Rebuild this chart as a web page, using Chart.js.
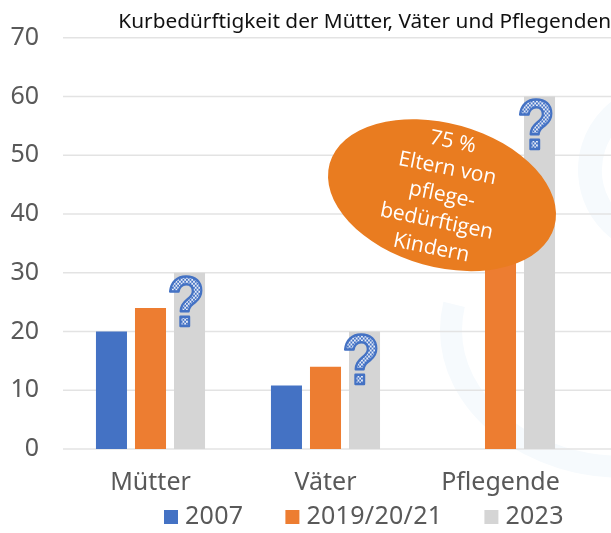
<!DOCTYPE html>
<html>
<head>
<meta charset="utf-8">
<script src="https://cdn.jsdelivr.net/npm/chart.js@4"></script>
<style>
  html, body { margin: 0; padding: 0; background: #fff; }
  #box { width: 611px; height: 533px; }
</style>
</head>
<body>
<div id="box"><canvas id="stage"></canvas></div>
<script>
const categories = ['Mütter', 'Väter', 'Pflegende'];
const years = ['2007', '2019/20/21', '2023'];
const values2007 = [20, 10.8, null];
const values2019 = [24, 14, 50];
const values2023 = [30, 20, 60];
const calloutLines = ['75 %', 'Eltern von', 'pflege-', 'bedürftigen', 'Kindern'];
const titleText = 'Kurbedürftigkeit der Mütter, Väter und Pflegenden';

const fontName = '"Noto Sans", sans-serif';

// schachbrett fuer die fragezeichen
function makeCheck() {
  const c = document.createElement('canvas');
  c.width = 4;
  c.height = 4;
  const g = c.getContext('2d');
  g.fillStyle = '#e6ecf8';
  g.fillRect(0, 0, 4, 4);
  g.fillStyle = '#4472C4';
  g.fillRect(0, 0, 2, 2);
  g.fillRect(2, 2, 2, 2);
  return c;
}

// blasses wasserzeichen im hintergrund
const watermark = {
  id: 'watermark',
  beforeDraw(chart) {
    const ctx = chart.ctx;
    ctx.save();
    ctx.strokeStyle = '#f6fafd';
    ctx.lineWidth = 22;
    ctx.beginPath();
    ctx.ellipse(625, 330, 174, 137, 0, Math.PI * 0.5, Math.PI * 1.06);
    ctx.stroke();
    ctx.lineWidth = 24;
    ctx.beginPath();
    ctx.arc(665, 170, 75, Math.PI * 0.6, Math.PI * 1.4);
    ctx.stroke();
    ctx.restore();
  }
};

// gitterlinien laufen bis zum rechten bildrand
const gridToEdge = {
  id: 'gridToEdge',
  afterLayout(chart) {
    chart.titleBlock.right = chart.width;
  },
  beforeDatasetsDraw(chart) {
    const ctx = chart.ctx;
    const y = chart.scales.y;
    ctx.save();
    ctx.strokeStyle = '#e3e3e3';
    ctx.lineWidth = 1.5;
    y.ticks.forEach(t => {
      const py = y.getPixelForValue(t.value);
      ctx.beginPath();
      ctx.moveTo(chart.chartArea.left, py);
      ctx.lineTo(chart.width, py);
      ctx.stroke();
    });
    ctx.restore();
  }
};

// legende von hand, damit die abstaende stimmen
const legendRow = {
  id: 'legendRow',
  afterDraw(chart) {
    const ctx = chart.ctx;
    ctx.save();
    ctx.font = '25px ' + fontName;
    ctx.letterSpacing = '0.3px';
    ctx.textBaseline = 'middle';
    let x = 164;
    chart.data.datasets.forEach(ds => {
      ctx.fillStyle = ds.backgroundColor;
      ctx.fillRect(x, 510, 14, 14);
      x += 21;
      ctx.fillStyle = '#595959';
      ctx.fillText(ds.label, x, 517);
      x += ctx.measureText(ds.label).width + 42;
    });
    ctx.restore();
  }
};

const marks = {
  id: 'marks',
  afterDatasetsDraw(chart) {
    const ctx = chart.ctx;
    const check = ctx.createPattern(makeCheck(), 'repeat');
    // fragezeichen auf den balken von 2023
    chart.getDatasetMeta(2).data.forEach(bar => {
      ctx.save();
      ctx.translate(bar.x - 3.5, bar.y + 2);
      ctx.scale(0.88, 1);
      ctx.font = 'bold 70px "Liberation Sans"';
      ctx.textAlign = 'center';
      ctx.textBaseline = 'alphabetic';
      ctx.fillStyle = check;
      ctx.strokeStyle = '#4472C4';
      ctx.lineWidth = 2.5;
      ctx.lineJoin = 'round';
      ctx.fillText('?', 0, 51);
      ctx.strokeText('?', 0, 51);
      ctx.restore();
    });
    // ellipse ueber dem balken der pflegenden
    const cx = chart.scales.x.getPixelForValue(2) - 58.5;
    const cy = chart.scales.y.getPixelForValue(43.2);
    ctx.save();
    ctx.translate(cx, cy);
    ctx.save();
    ctx.rotate(15.7 * Math.PI / 180);
    ctx.fillStyle = '#E97C20';
    ctx.beginPath();
    ctx.ellipse(0, 0, 116.7, 71.8, 0, 0, Math.PI * 2);
    ctx.fill();
    ctx.restore();
    ctx.rotate(11.5 * Math.PI / 180);
    ctx.fillStyle = '#fff';
    ctx.font = '21px "Open Sans"';
    ctx.textAlign = 'center';
    ctx.textBaseline = 'middle';
    calloutLines.forEach((line, i) => {
      ctx.fillText(line, 0, (i - 2) * 27);
    });
    ctx.restore();
  }
};

new Chart(document.getElementById('stage'), {
  type: 'bar',
  data: {
    labels: categories,
    datasets: [
      { label: years[0], data: values2007, backgroundColor: '#4472C4' },
      { label: years[1], data: values2019, backgroundColor: '#ED7D31' },
      { label: years[2], data: values2023, backgroundColor: '#D5D5D5' }
    ]
  },
  plugins: [watermark, gridToEdge, marks, legendRow],
  options: {
    responsive: true,
    maintainAspectRatio: false,
    animation: false,
    barPercentage: 0.795,
    categoryPercentage: 0.669,
    layout: { padding: { left: 0, right: 23, top: 10, bottom: 0 } },
    plugins: {
      title: {
        display: true,
        text: titleText,
        align: 'end',
        color: '#111',
        font: { family: fontName, size: 20.8, weight: 'normal' },
        padding: { top: 0, bottom: 2.7 }
      },
      legend: { display: false },
      tooltip: { enabled: false }
    },
    scales: {
      x: {
        afterFit(scale) { scale.height = 84; },
        grid: { display: false },
        border: { display: false },
        ticks: { color: '#595959', padding: 11, font: { family: fontName, size: 25 } }
      },
      y: {
        min: 0,
        max: 70,
        afterFit(scale) { scale.width = 63; },
        grid: { display: false },
        border: { display: false },
        ticks: { stepSize: 10, color: '#595959', padding: 16, font: { family: fontName, size: 25 } }
      }
    }
  }
});
</script>
</body>
</html>
